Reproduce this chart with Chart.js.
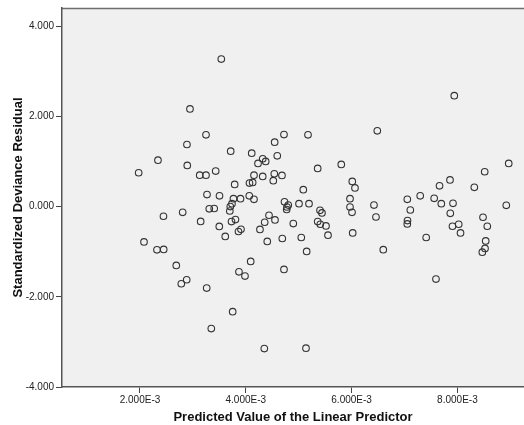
<!DOCTYPE html>
<html>
<head>
<meta charset="utf-8">
<script src="https://cdn.jsdelivr.net/npm/chart.js@4/dist/chart.umd.min.js"></script>
<style>
  html, body { margin: 0; padding: 0; background: #fff; }
  #wrap { width: 524px; height: 425px; position: relative; }
</style>
</head>
<body>
<div id="wrap"><canvas id="residualChart"></canvas></div>
<script>
// ─── Data (x in units of 1E-3) ────────────────────────────
const predicted = [
  3.537, 2.945, 3.248, 2.888, 2.340, 1.975, 2.894, 3.715, 4.112, 4.546,
  4.722, 4.595, 4.320, 4.376, 4.231, 3.129, 3.248, 3.431, 4.155, 4.320,
  4.539, 4.684, 4.520, 3.790, 4.070, 4.130, 3.267, 3.503, 3.767, 3.900,
  4.066, 4.155, 4.732, 4.803, 4.779, 4.773, 2.444, 2.807, 3.310, 3.403,
  3.739, 3.707, 3.698, 3.147, 3.499, 3.730, 3.805, 3.612, 3.862, 3.909,
  4.268, 4.357, 4.439, 4.552, 4.406, 4.690, 2.076, 2.321, 2.448, 2.686,
  2.781, 2.883, 3.261, 3.871, 3.985, 4.093, 4.722, 3.752, 3.348, 4.350,
  5.176, 6.486, 7.941, 5.359, 5.805, 5.087, 6.013, 6.064, 5.970, 8.970,
  8.516, 7.860, 7.662, 8.320, 7.053, 7.297, 7.561, 5.006, 5.195, 5.403,
  5.440, 4.898, 5.359, 5.408, 5.516, 5.554, 5.049, 5.151, 5.970, 6.008,
  6.021, 6.423, 6.461, 6.599, 7.110, 7.057, 7.053, 7.696, 7.917, 7.866,
  7.907, 8.025, 8.059, 7.410, 7.595, 8.924, 8.484, 8.565, 8.535, 8.522,
  8.471, 5.138
];
const residual = [
  3.271, 2.166, 1.591, 1.377, 1.030, 0.751, 0.913, 1.229, 1.185, 1.428,
  1.598, 1.127, 1.061, 1.001, 0.957, 0.698, 0.698, 0.787, 0.698, 0.670,
  0.729, 0.692, 0.575, 0.493, 0.522, 0.537, 0.267, 0.239, 0.177, 0.177,
  0.239, 0.161, 0.106, 0.035, -0.009, -0.064, -0.214, -0.126, -0.049, -0.042,
  0.066, 0.000, -0.097, -0.329, -0.440, -0.331, -0.287, -0.661, -0.552, -0.502,
  -0.506, -0.347, -0.192, -0.296, -0.771, -0.707, -0.782, -0.959, -0.950, -1.304,
  -1.710, -1.622, -1.806, -1.445, -1.540, -1.215, -1.392, -2.329, -2.705, -3.147,
  1.591, 1.680, 2.460, 0.846, 0.935, 0.376, 0.559, 0.415, 0.177, 0.957,
  0.773, 0.592, 0.460, 0.427, 0.161, 0.239, 0.183, 0.066, 0.066, -0.082,
  -0.141, -0.376, -0.331, -0.391, -0.429, -0.634, -0.685, -0.994, -0.009, -0.126,
  -0.583, 0.035, -0.230, -0.955, -0.075, -0.309, -0.385, 0.066, 0.073, -0.148,
  -0.435, -0.391, -0.583, -0.685, -1.607, 0.029, -0.236, -0.435, -0.760, -0.928,
  -1.010, -3.138
];
const xTicks = [2, 4, 6, 8];
const yTicks = [-4, -2, 0, 2, 4];

// ─── Plot background + frame ──────────────────────────────
const plotFrame = {
  id: 'plotFrame',
  beforeDraw(chart) {
    const { ctx, chartArea: a } = chart;
    ctx.save();
    ctx.fillStyle = '#f0f0f0';
    ctx.fillRect(a.left, a.top, a.right - a.left, a.bottom - a.top);
    ctx.strokeStyle = '#6e6e6e';
    ctx.lineWidth = 1.5;
    ctx.beginPath();
    ctx.moveTo(a.left, a.top + 0.5);
    ctx.lineTo(a.right, a.top + 0.5);
    ctx.stroke();
    ctx.restore();
  }
};

new Chart(document.getElementById('residualChart'), {
  type: 'scatter',
  data: {
    datasets: [{
      data: predicted.map((x, i) => ({ x, y: residual[i] })),
      pointStyle: 'circle',
      pointRadius: 3.3,
      pointBorderWidth: 1.1,
      pointBorderColor: '#333',
      pointBackgroundColor: 'rgba(0,0,0,0)',
    }],
  },
  options: {
    responsive: true,
    maintainAspectRatio: false,
    animation: false,
    layout: { autoPadding: false, padding: { top: 7, right: 0, left: 0, bottom: 0 } },
    plugins: {
      legend: { display: false },
      tooltip: { enabled: false },
    },
    scales: {
      x: {
        type: 'linear',
        min: 0.526,
        max: 9.259,
        afterBuildTicks: s => { s.ticks = xTicks.map(v => ({ value: v })); },
        afterFit: s => { s.height = 38; s.paddingRight = 0; s.paddingLeft = 0; },
        grid: { drawOnChartArea: false, tickLength: 6, color: '#444', lineWidth: 1 },
        border: { color: '#555', width: 1.5 },
        ticks: {
          color: '#222',
          padding: 1,
          font: { family: 'Liberation Sans, Arial', size: 10 },
          callback: v => v.toFixed(3) + 'E-3',
          maxRotation: 0,
        },
        title: {
          display: true,
          text: 'Predicted Value of the Linear Predictor',
          color: '#111',
          font: { family: 'Liberation Sans, Arial', size: 13, weight: 'bold' },
          padding: { top: 1, bottom: 0 },
        },
      },
      y: {
        type: 'linear',
        min: -4,
        max: 4.404,
        afterBuildTicks: s => { s.ticks = yTicks.map(v => ({ value: v })); },
        afterFit: s => { s.width = 62; },
        grid: { drawOnChartArea: false, tickLength: 6, color: '#444', lineWidth: 1 },
        border: { color: '#555', width: 1.5 },
        ticks: {
          color: '#222',
          padding: 2,
          font: { family: 'Liberation Sans, Arial', size: 10 },
          callback: v => v.toFixed(3),
        },
        title: {
          display: true,
          text: 'Standardized Deviance Residual',
          color: '#111',
          font: { family: 'Liberation Sans, Arial', size: 13, weight: 'bold' },
          padding: { top: 11, bottom: 0 },
        },
      },
    },
  },
  plugins: [plotFrame],
});
</script>
</body>
</html>
